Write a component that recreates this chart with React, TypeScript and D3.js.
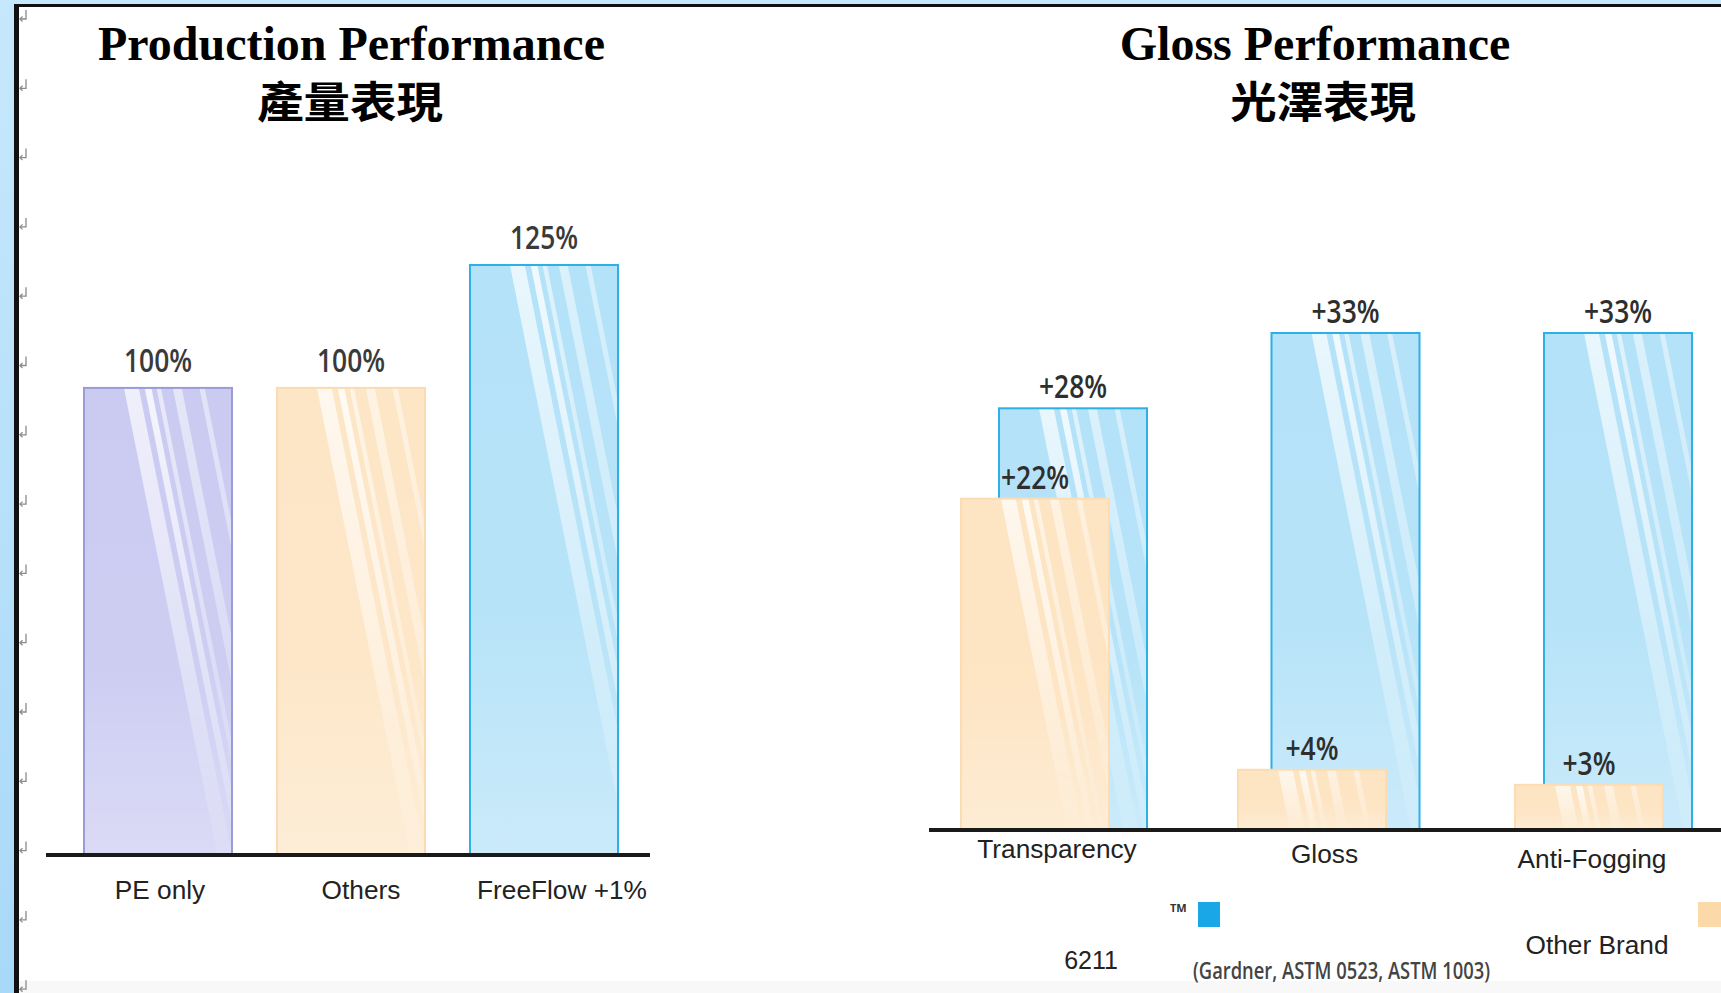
import React from 'react';
import * as d3 from 'd3';

// ---------- data ----------
const prodCategories = ['PE only', 'Others', 'FreeFlow +1%'];
const prodValues = [100, 100, 125];

const glossCategories = ['Transparency', 'Gloss', 'Anti-Fogging'];
const glossFreeflow = [28, 33, 33];
const glossOther = [22, 4, 3];

const legendNames = ['6211', 'Other Brand'];
const legendNote = '(Gardner, ASTM 0523, ASTM 1003)';

const titles = [
  { en: 'Production Performance', zh: '產量表現' },
  { en: 'Gloss Performance', zh: '光澤表現' },
];

// ---------- styles ----------
const W = 1721;
const H = 993;
const prodFills = ['#cbcbf2', '#fde6c6', '#b4e2f8'];
const prodStrokes = ['#9b9bd5', '#fbdcb2', '#2db0e8'];
const blueFill = '#b4e2f8';
const blueStroke = '#2db0e8';
const peachFill = '#fde4c2';
const peachStroke = '#fcdcb2';

const streaks = [
  { u: 0.27, w: 0.1, o: 0.75 },
  { u: 0.41, w: 0.045, o: 0.85 },
  { u: 0.49, w: 0.03, o: 0.6 },
  { u: 0.6, w: 0.06, o: 0.55 },
  { u: 0.78, w: 0.035, o: 0.5 },
];

const serif = "'Liberation Serif', 'Times New Roman', serif";
const cjk = "'Noto Sans CJK TC', 'Noto Sans CJK SC', sans-serif";
const sans = "'Liberation Sans', Arial, sans-serif";
const rounded = "'Open Sans', 'DejaVu Sans', sans-serif";

function Txt({ x, y, sx = 1, children, ...rest }: any) {
  return (
    <text transform={`translate(${x},${y}) scale(${sx},1)`} {...rest}>
      {children}
    </text>
  );
}

function GlassBar({ id, x, y, w, h, fill, stroke }: any) {
  const shift = 0.2 * h;
  return (
    <g>
      <clipPath id={id}>
        <rect x={x} y={y} width={w} height={h} />
      </clipPath>
      <rect x={x} y={y} width={w} height={h} fill={fill} />
      <g clipPath={`url(#${id})`}>
        {streaks.map((s, i) => {
          const a = x + s.u * w;
          const b = a + s.w * w;
          const pts = [
            [a, y],
            [b, y],
            [b + shift, y + h],
            [a + shift, y + h],
          ];
          return (
            <polygon
              key={i}
              points={pts.map((p) => p.join(',')).join(' ')}
              fill="url(#streakFade)"
              opacity={s.o}
            />
          );
        })}
        <rect x={x} y={y} width={w} height={h} fill="url(#bottomLight)" />
      </g>
      <rect x={x} y={y} width={w} height={h} fill="none" stroke={stroke} strokeWidth={2} />
    </g>
  );
}

export default function App() {
  // ----- left chart scales -----
  const leftBase = 855;
  const xL = d3.scaleBand<string>().domain(prodCategories).range([84, 618]).paddingInner(0.233).paddingOuter(0);
  const yL = d3.scaleLinear().domain([5, 125]).range([leftBase, 265]);
  const xLabL = d3.scalePoint<string>().domain(prodCategories).range([160, 562]);

  // ----- right chart scales -----
  const rightBase = 830;
  const xBlue = d3.scalePoint<string>().domain(glossCategories).range([1073, 1618]);
  const xPeach = d3.scalePoint<string>().domain(glossCategories).range([1035, 1589]);
  const xCat = d3.scalePoint<string>().domain(glossCategories).range([1057, 1592]);
  const yR = d3.scaleLinear().domain([0, 33]).range([rightBase, 333]);
  const barW = 148;

  const marks = d3.range(15).map((i) => 10 + i * 69.3);

  return (
    <svg
      width={W}
      height={H}
      viewBox={`0 0 ${W} ${H}`}
      style={{ position: 'absolute', left: 0, top: 0, display: 'block', background: '#fff' }}
    >
      <defs>
        <linearGradient id="streakFade" x1="0" y1="0" x2="0" y2="1">
          <stop offset="0" stopColor="#fff" stopOpacity={0.95} />
          <stop offset="0.55" stopColor="#fff" stopOpacity={0.55} />
          <stop offset="1" stopColor="#fff" stopOpacity={0.1} />
        </linearGradient>
        <linearGradient id="bottomLight" x1="0" y1="0" x2="0" y2="1">
          <stop offset="0" stopColor="#fff" stopOpacity={0} />
          <stop offset="0.6" stopColor="#fff" stopOpacity={0.05} />
          <stop offset="1" stopColor="#fff" stopOpacity={0.3} />
        </linearGradient>
        <linearGradient id="sideBlue" x1="0" y1="0" x2="0" y2="1">
          <stop offset="0" stopColor="#c6e8fc" />
          <stop offset="1" stopColor="#a9d9f8" />
        </linearGradient>
      </defs>

      {/* frame */}
      <rect x={0} y={0} width={W} height={H} fill="#fff" />
      <rect x={0} y={0} width={W} height={4} fill="#c6e8fc" />
      <rect x={0} y={0} width={14} height={H} fill="url(#sideBlue)" />
      <rect x={19} y={981} width={W - 19} height={H - 981} fill="#f8f8f8" />
      <rect x={14} y={4} width={W - 14} height={3} fill="#111" />
      <rect x={14} y={4} width={5} height={H - 4} fill="#111" />
      {marks.map((m, i) => (
        <g key={i} stroke="#8a8a8a" strokeWidth={1.3} fill="none">
          <path d={`M26,${m} V${m + 9} H20`} />
          <path d={`M22.5,${m + 6.5} L20,${m + 9} L22.5,${m + 11.5}`} />
        </g>
      ))}

      {/* titles */}
      {[351.5, 1315].map((cx, i) => (
        <g key={i}>
          <text x={cx} y={60} textAnchor="middle" fontFamily={serif} fontWeight="bold" fontSize={48} fill="#000">
            {titles[i].en}
          </text>
          <Txt
            x={i === 0 ? 350 : 1323}
            y={99}
            sx={1.08}
            textAnchor="middle"
            dominantBaseline="central"
            fontFamily={cjk}
            fontWeight="bold"
            fontSize={43}
            fill="#000"
          >
            {titles[i].zh}
          </Txt>
        </g>
      ))}

      {/* ---------- left chart ---------- */}
      {prodCategories.map((c, i) => {
        const x = xL(c)!;
        const y = yL(prodValues[i]);
        return (
          <GlassBar
            key={c}
            id={`pb${i}`}
            x={x}
            y={y}
            w={xL.bandwidth()}
            h={leftBase - y}
            fill={prodFills[i]}
            stroke={prodStrokes[i]}
          />
        );
      })}
      {prodCategories.map((c, i) => (
        <Txt
          key={c}
          x={xL(c)! + xL.bandwidth() / 2}
          y={yL(prodValues[i]) - 16}
          sx={0.8}
          textAnchor="middle"
          fontFamily={rounded}
          fontWeight={600}
          fontSize={33}
          fill="#3a3a3a"
        >
          {`${prodValues[i]}%`}
        </Txt>
      ))}
      <line x1={46} x2={650} y1={leftBase} y2={leftBase} stroke="#1a1a1a" strokeWidth={4} />
      {prodCategories.map((c) => (
        <Txt
          key={c}
          x={xLabL(c)!}
          y={899}
          sx={1.05}
          textAnchor="middle"
          fontFamily={sans}
          fontSize={25}
          fill="#222"
        >
          {c}
        </Txt>
      ))}

      {/* ---------- right chart ---------- */}
      {glossCategories.map((c, i) => {
        const y = yR(glossFreeflow[i]);
        return (
          <GlassBar
            key={c}
            id={`gb${i}`}
            x={xBlue(c)! - barW / 2}
            y={y}
            w={barW}
            h={rightBase - y}
            fill={blueFill}
            stroke={blueStroke}
          />
        );
      })}
      {glossCategories.map((c, i) => {
        const y = yR(glossOther[i]);
        return (
          <GlassBar
            key={c}
            id={`go${i}`}
            x={xPeach(c)! - barW / 2}
            y={y}
            w={barW}
            h={rightBase - y}
            fill={peachFill}
            stroke={peachStroke}
          />
        );
      })}
      {glossCategories.map((c, i) => (
        <Txt
          key={'f' + c}
          x={xBlue(c)!}
          y={yR(glossFreeflow[i]) - 10}
          sx={0.8}
          textAnchor="middle"
          fontFamily={rounded}
          fontWeight={600}
          fontSize={33}
          fill="#2e2e2e"
        >
          {`+${glossFreeflow[i]}%`}
        </Txt>
      ))}
      {glossCategories.map((c, i) => (
        <Txt
          key={'o' + c}
          x={xPeach(c)!}
          y={yR(glossOther[i]) - 10}
          sx={0.8}
          textAnchor="middle"
          fontFamily={rounded}
          fontWeight={600}
          fontSize={33}
          fill="#2e2e2e"
        >
          {`+${glossOther[i]}%`}
        </Txt>
      ))}
      <line x1={929} x2={W} y1={rightBase} y2={rightBase} stroke="#1a1a1a" strokeWidth={4} />
      {glossCategories.map((c, i) => (
        <Txt key={c} x={xCat(c)!} y={858 + i * 5} sx={1.05} textAnchor="middle" fontFamily={sans} fontSize={25} fill="#222">
          {c}
        </Txt>
      ))}

      {/* legend */}
      <text x={1170} y={912} fontFamily={rounded} fontWeight={700} fontSize={11} fill="#333">
        TM
      </text>
      <rect x={1198} y={902} width={22} height={25} fill="#1aa7e8" />
      <rect x={1698} y={902} width={23} height={25} fill="#fcd9a8" />
      <Txt x={1091} y={969} sx={1.0} textAnchor="middle" fontFamily={sans} fontSize={25} fill="#222">
        {legendNames[0]}
      </Txt>
      <Txt x={1597} y={954} sx={1.05} textAnchor="middle" fontFamily={sans} fontSize={25} fill="#222">
        {legendNames[1]}
      </Txt>
      <text
        x={1193}
        y={979}
        textLength={297}
        lengthAdjust="spacingAndGlyphs"
        fontFamily={rounded}
        fontWeight={600}
        fontSize={23}
        fill="#444"
      >
        {legendNote}
      </text>
    </svg>
  );
}
